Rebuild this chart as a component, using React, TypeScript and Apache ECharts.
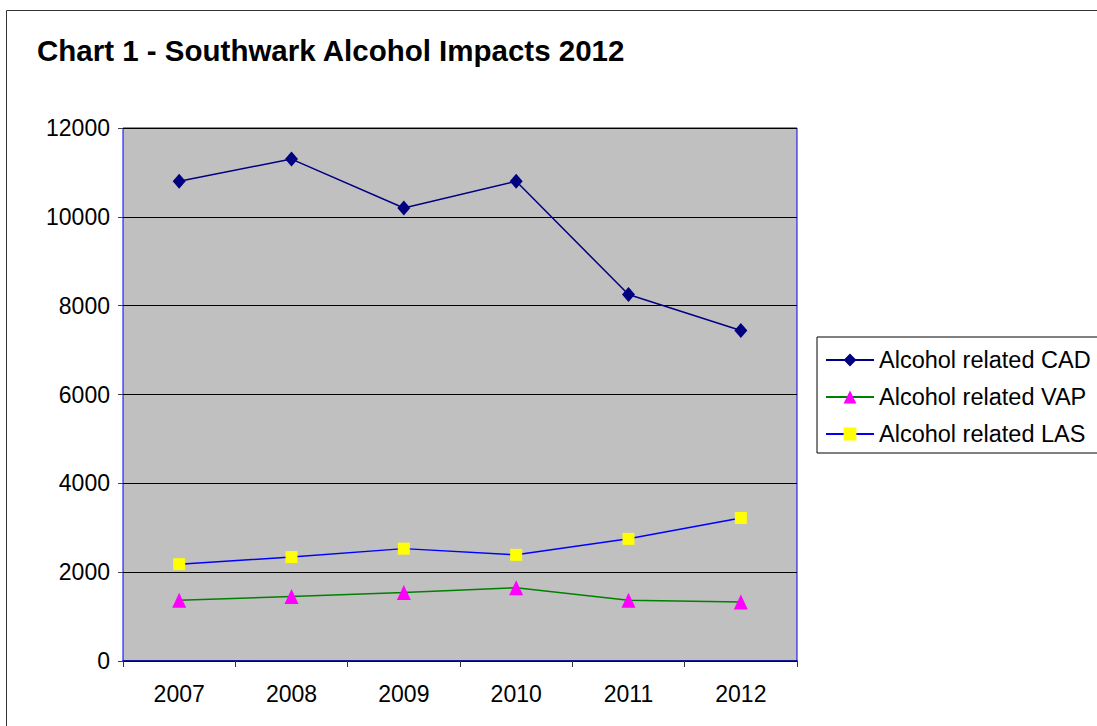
import React, { useEffect, useRef } from "react";
import * as echarts from "echarts";

const years = ["2007", "2008", "2009", "2010", "2011", "2012"];
const cadValues = [10800, 11300, 10200, 10800, 8250, 7440];
const vapValues = [1370, 1450, 1540, 1650, 1370, 1330];
const lasValues = [2180, 2340, 2530, 2390, 2750, 3220];
const seriesNames = ["Alcohol related CAD", "Alcohol related VAP", "Alcohol related LAS"];
const titleText = "Chart 1 - Southwark Alcohol Impacts 2012";

export default function App() {
  const ref = useRef<HTMLDivElement>(null);
  useEffect(() => {
    if (!ref.current) return;
    const chart = echarts.init(ref.current, null, { renderer: "svg" });
    const font = "'Liberation Sans', Arial, sans-serif";
    chart.setOption({
      animation: false,
      backgroundColor: "#ffffff",
      textStyle: { fontFamily: font },
      title: {
        text: titleText,
        left: 37,
        top: 35,
        padding: 0,
        textStyle: { fontFamily: font, fontSize: 29.5, fontWeight: "bold", color: "#000" },
      },
      graphic: [
        {
          type: "rect",
          shape: { x: 6.5, y: 10.5, width: 1200, height: 800 },
          style: { fill: "none", stroke: "#333", lineWidth: 1 },
          silent: true,
          z: -10,
        },
      ],
      legend: {
        orient: "vertical",
        left: 817,
        top: 337,
        padding: [11, 30, 7, 8],
        itemGap: 13,
        itemWidth: 48,
        itemHeight: 16,
        borderColor: "#000",
        borderWidth: 1,
        backgroundColor: "#fff",
        data: seriesNames,
        textStyle: { fontFamily: font, fontSize: 23.5, color: "#000" },
      },
      grid: {
        left: 123,
        top: 128,
        width: 674,
        height: 533,
        show: true,
        backgroundColor: "#C0C0C0",
        borderColor: "#0000FF",
        borderWidth: 1,
      },
      xAxis: {
        type: "category",
        data: years,
        boundaryGap: true,
        axisLine: { show: true, lineStyle: { color: "#000080", width: 1.5 } },
        axisTick: { show: true, length: 6, lineStyle: { color: "#333" } },
        axisLabel: { fontFamily: font, fontSize: 23, color: "#000", margin: 21 },
        splitLine: { show: false },
      },
      yAxis: {
        type: "value",
        min: 0,
        max: 12000,
        interval: 2000,
        axisLine: { show: false },
        axisTick: { show: true, length: 5, lineStyle: { color: "#444" } },
        axisLabel: {
          fontFamily: font,
          fontSize: 23,
          color: "#000",
          margin: 13,
          formatter: (v: number) => String(v),
        },
        splitLine: { show: true, lineStyle: { color: "#000", width: 1 } },
      },
      series: [
        {
          name: seriesNames[0],
          type: "line",
          data: cadValues,
          symbol: "diamond",
          symbolSize: [13, 15],
          lineStyle: { color: "#000080", width: 1.5 },
          itemStyle: { color: "#000080" },
        },
        {
          name: seriesNames[1],
          type: "line",
          data: vapValues,
          symbol: "triangle",
          symbolSize: [14, 15],
          lineStyle: { color: "#008000", width: 1.5 },
          itemStyle: { color: "#FF00FF" },
        },
        {
          name: seriesNames[2],
          type: "line",
          data: lasValues,
          symbol: "rect",
          symbolSize: [12, 12],
          lineStyle: { color: "#0000FF", width: 1.5 },
          itemStyle: { color: "#FFFF00" },
        },
      ],
    });
    return () => chart.dispose();
  }, []);
  return (
    <div
      ref={ref}
      style={{ position: "fixed", left: 0, top: 0, width: 1097, height: 726 }}
    />
  );
}
